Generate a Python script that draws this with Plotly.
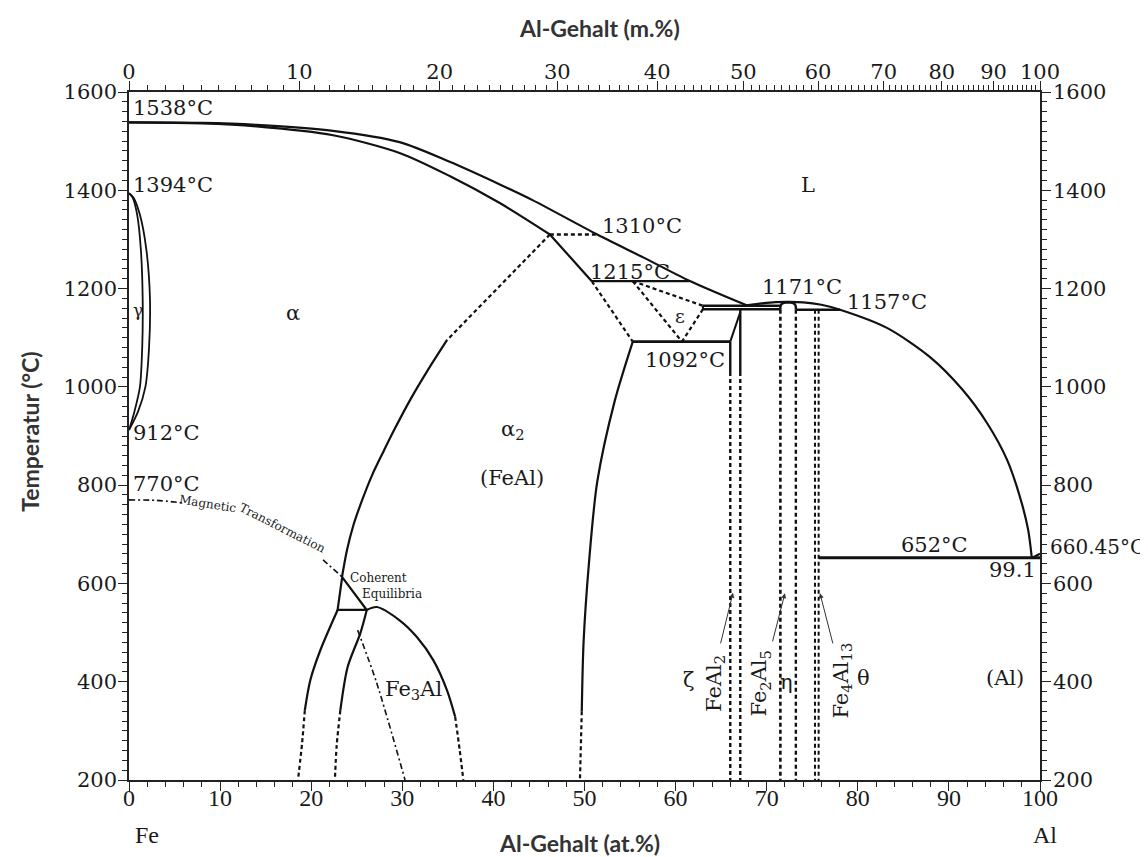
import plotly.graph_objects as go

# ---------------- data (at.% Al, °C) ----------------
liquidus_fe_x = [0, 8, 14, 22.4, 29.7, 35.2, 40.7, 44.3, 51.4, 56.5, 61.5, 67.8]
liquidus_fe_t = [1538, 1537, 1533, 1521, 1498, 1458, 1412, 1380, 1310, 1263, 1216, 1166]
liquidus_al_x = [67.8, 69.5, 71.0, 72.4, 74.0, 76.0, 78.05, 83.2, 87.9, 91.5, 94.2, 96.4, 97.8, 98.7, 99.1]
liquidus_al_t = [1166, 1170, 1172.5, 1173, 1172, 1167, 1157, 1120, 1061, 994, 926, 851, 776, 709, 652]
solidus_x = [0, 8, 14, 22.4, 29.7, 35.2, 40.7, 46.2]
solidus_t = [1538, 1536, 1530, 1512, 1476, 1429, 1374, 1310]
alpha_a2_upper_x = [46.2, 50.8]
alpha_a2_upper_t = [1310, 1215]
gamma_outer_x = [0, 0.5, 1.2, 1.9, 2.3, 2.2, 1.8, 1.0, 0]
gamma_outer_t = [1394, 1385, 1350, 1280, 1180, 1080, 1000, 950, 912]
gamma_inner_x = [0, 0.4, 0.9, 1.3, 1.5, 1.45, 1.2, 0.6, 0]
gamma_inner_t = [1394, 1385, 1350, 1280, 1180, 1080, 1000, 950, 912]
order_dashed_x = [46.2, 34.9]
order_dashed_t = [1310, 1095]
order_solid_x = [34.9, 32.8, 30.85, 29.1, 28.0, 26.7, 25.6, 24.64, 23.93, 23.38]
order_solid_t = [1095, 1034, 973, 912, 871, 821, 770, 719, 668, 613]
coherent_x = [23.4, 22.9, 26.1, 23.4]
coherent_t = [613, 546, 546, 613]
a_fe3al_left_x = [22.9, 21.0, 19.9, 19.3]
a_fe3al_left_t = [546, 464, 403, 342]
a_fe3al_left_dash_x = [19.3, 19.0, 18.55]
a_fe3al_left_dash_t = [342, 275, 200]
fe3al_left_x = [26.1, 25.4, 24.0, 23.2]
fe3al_left_t = [546, 499, 430, 342]
fe3al_left_dash_x = [23.2, 22.8, 22.6]
fe3al_left_dash_t = [342, 271, 200]
fe3al_dome_x = [26.1, 27.2, 29.7, 31.6, 33.4, 34.9, 35.8]
fe3al_dome_t = [546, 552, 525, 491, 444, 383, 329]
fe3al_dome_dash_x = [35.8, 36.3, 36.7]
fe3al_dome_dash_t = [329, 261, 200]
d03_b2_x = [25.1, 27.2, 30.3]
d03_b2_t = [505, 397, 200]
magnetic1_x = [0, 3, 5.9]
magnetic1_t = [770, 769, 764]
magnetic2_x = [21.3, 23.4]
magnetic2_t = [648, 613]
b2_boundary_x = [55.3, 53.3, 51.4, 50.5, 49.9, 49.7]
b2_boundary_t = [1092, 970, 807, 644, 481, 340]
b2_boundary_dash_x = [49.7, 49.5]
b2_boundary_dash_t = [340, 200]

T_1310, T_1215, T_1092 = 1310, 1215, 1092
T_upper, T_lower, T_652 = 1165, 1158, 652
x_1310 = [46.2, 51.4]
x_1215 = [50.8, 61.5]
x_1092 = [55.3, 66.0]
eps_x = [55.3, 60.7, 63.0]
feal2_left, feal2_right = 66.0, 67.1
fe2al5_left, fe2al5_right = 71.5, 73.2
fe4al13_a, fe4al13_b = 75.3, 75.7
cap_x = [71.5, 71.5, 71.6, 71.9, 72.35, 72.8, 73.1, 73.2, 73.2]
cap_t = [1157, 1163, 1168, 1171, 1172, 1171, 1168, 1163, 1157]

wt_major = [0, 10, 20, 30, 40, 50, 60, 70, 80, 90, 100]
at_major = [0, 10, 20, 30, 40, 50, 60, 70, 80, 90, 100]
t_major = [200, 400, 600, 800, 1000, 1200, 1400, 1600]


def wt_to_at(w):
    a = w / 26.98
    f = (100 - w) / 55.845
    return 100 * a / (a + f)


fig = go.Figure()
BLACK = "#111111"


def line(xs, ys, dash=None, width=2.2, shape="linear"):
    fig.add_trace(go.Scatter(x=xs, y=ys, mode="lines",
                             line=dict(color=BLACK, width=width, dash=dash, shape=shape, smoothing=0.8),
                             showlegend=False, hoverinfo="skip"))


DASH = "4px,3px"
DASHDOT = "6px,3px,2px,3px"

line(liquidus_fe_x, liquidus_fe_t, shape="spline")
line(liquidus_al_x, liquidus_al_t, shape="spline")
line([99.1, 100], [652, 660.45])
line(solidus_x, solidus_t, shape="spline")
line(alpha_a2_upper_x, alpha_a2_upper_t)
line(gamma_outer_x, gamma_outer_t, shape="spline", width=1.8)
line(gamma_inner_x, gamma_inner_t, shape="spline", width=1.8)
line(order_dashed_x, order_dashed_t, dash=DASH)
line(order_solid_x, order_solid_t, shape="spline")
line(coherent_x, coherent_t)
line(a_fe3al_left_x, a_fe3al_left_t, shape="spline")
line(a_fe3al_left_dash_x, a_fe3al_left_dash_t, dash=DASH, shape="spline")
line(fe3al_left_x, fe3al_left_t, shape="spline")
line(fe3al_left_dash_x, fe3al_left_dash_t, dash=DASH, shape="spline")
line(fe3al_dome_x, fe3al_dome_t, shape="spline")
line(fe3al_dome_dash_x, fe3al_dome_dash_t, dash=DASH, shape="spline")
line(d03_b2_x, d03_b2_t, dash=DASHDOT, width=1.6, shape="spline")
line(magnetic1_x, magnetic1_t, dash=DASHDOT, width=1.6, shape="spline")
line(magnetic2_x, magnetic2_t, dash=DASHDOT, width=1.6)
line(b2_boundary_x, b2_boundary_t, shape="spline")
line(b2_boundary_dash_x, b2_boundary_dash_t, dash=DASH)

# horizontals
line(x_1310, [T_1310, T_1310], dash=DASH, width=2.4)
line(x_1215, [T_1215, T_1215], width=2.2)
line(x_1092, [T_1092, T_1092], width=2.8)
line([eps_x[2], fe2al5_left], [T_upper, T_upper], width=2.4)
line([eps_x[2], fe2al5_left], [T_lower, T_lower], width=2.4)
line([eps_x[2], eps_x[2]], [T_lower, T_upper], width=2)
line([fe2al5_right, 78.05], [1157, 1157], width=2.4)
line([fe4al13_b, 100], [T_652, T_652], width=3)

# epsilon triangle (dashed)
line([x_1215[0], eps_x[0]], [T_1215, T_1092], dash=DASH)
line([eps_x[0], eps_x[1]], [T_1215, T_1092], dash=DASH)
line([eps_x[0], eps_x[2]], [T_1215, T_upper], dash=DASH)
line([eps_x[2], eps_x[1]], [T_lower, T_1092], dash=DASH)

# FeAl2
line([feal2_left, feal2_left], [T_1092, 1030], width=2.4)
line([feal2_left, feal2_left], [1030, 200], dash=DASH, width=2.4)
line([feal2_left, feal2_right], [T_1092, 1152], width=2)
line([feal2_right, feal2_right], [T_lower, 1030], width=2.4)
line([feal2_right, feal2_right], [1030, 200], dash=DASH, width=2.4)
# Fe2Al5
line(cap_x, cap_t, width=2.4)
line([fe2al5_left, fe2al5_left], [1157, 200], dash=DASH, width=2.6)
line([fe2al5_right, fe2al5_right], [1157, 200], dash=DASH, width=2.4)
# Fe4Al13
line([fe4al13_a, fe4al13_a], [1157, 200], dash=DASH, width=2)
line([fe4al13_b, fe4al13_b], [1157, 200], dash=DASH, width=2)

# invisible trace for secondary axes
fig.add_trace(go.Scatter(x=[0, 100], y=[200, 1600], xaxis="x2", yaxis="y2", mode="markers",
                         marker=dict(opacity=0), showlegend=False, hoverinfo="skip"))

SERIF = "DejaVu Serif"
TXT = "#1a1a1a"


def label(x, y, text, size=21, xanchor="center", yanchor="middle", angle=0, family=SERIF):
    fig.add_annotation(x=x, y=y, text=text, showarrow=False, xanchor=xanchor, yanchor=yanchor,
                       textangle=angle, font=dict(family=family, size=size, color=TXT))


# temperature labels
label(0.2, 1567, "1538°C", xanchor="left")
label(0.2, 1411, "1394°C", xanchor="left")
label(0.2, 906, "912°C", xanchor="left")
label(0.2, 802, "770°C", xanchor="left")
label(51.7, 1327, "1310°C", xanchor="left")
label(50.4, 1234, "1215°C", xanchor="left")
label(69.3, 1203, "1171°C", xanchor="left")
label(78.6, 1173, "1157°C", xanchor="left")
label(56.4, 1055, "1092°C", xanchor="left")
label(88.4, 678, "652°C")
label(99.75, 627, "99.1", xanchor="right")
fig.add_annotation(xref="paper", yref="paper", x=1.0088, y=(674 - 200) / 1400, text="660.45°C",
                   showarrow=False, xanchor="left", yanchor="middle",
                   font=dict(family=SERIF, size=20, color=TXT))

# phase labels
label(74.5, 1411, "L")
label(18.0, 1150, "α")
label(0.95, 1156, "γ", size=17)
label(42.2, 912, "α<sub>2</sub>")
label(42.0, 814, "(FeAl)")
label(60.5, 1144, "ε", size=19)
label(31.2, 383, "Fe<sub>3</sub>Al")
label(24.0, 611, "Coherent", size=12, xanchor="left")
label(25.4, 578, "Equilibria", size=12, xanchor="left")
label(8.7, 762, "Magnetic", size=12, angle=9)
label(16.8, 712, "Transformation", size=12, angle=27)
label(61.4, 403, "ζ")
label(64.3, 397, "FeAl<sub>2</sub>", angle=-90)
label(69.3, 397, "Fe<sub>2</sub>Al<sub>5</sub>", angle=-90)
label(72.2, 399, "η")
label(78.3, 403, "Fe<sub>4</sub>Al<sub>13</sub>", angle=-90)
label(80.6, 407, "θ")
label(96.2, 407, "(Al)")

# leader arrows
for (hx, ht, tx, tt) in [(66.3, 581, 64.9, 475), (72.0, 580, 70.6, 479), (75.85, 580, 77.3, 475)]:
    fig.add_annotation(x=hx, y=ht, ax=tx, ay=tt, xref="x", yref="y", axref="x", ayref="y",
                       text="", showarrow=True, arrowhead=2, arrowsize=1, arrowwidth=1,
                       arrowcolor="#333333")

# axis titles and element names
TITLE_FONT = dict(family="Lato", size=23, color="#333333")
fig.add_annotation(xref="paper", yref="paper", x=0.517, y=1.093, text="<b>Al-Gehalt (m.%)</b>",
                   showarrow=False, font=TITLE_FONT, xanchor="center", yanchor="middle")
fig.add_annotation(xref="paper", yref="paper", x=0.495, y=-0.0916, text="<b>Al-Gehalt (at.%)</b>",
                   showarrow=False, font=TITLE_FONT, xanchor="center", yanchor="middle")
fig.add_annotation(xref="paper", yref="paper", x=-0.1087, y=0.506, text="<b>Temperatur (°C)</b>",
                   showarrow=False, font=TITLE_FONT, xanchor="center", yanchor="middle", textangle=-90)
fig.add_annotation(xref="paper", yref="paper", x=0.0198, y=-0.08, text="Fe",
                   showarrow=False, xanchor="center", yanchor="middle",
                   font=dict(family="Liberation Serif", size=24, color=TXT))
fig.add_annotation(xref="paper", yref="paper", x=1.0055, y=-0.08, text="Al",
                   showarrow=False, xanchor="center", yanchor="middle",
                   font=dict(family="Liberation Serif", size=24, color=TXT))

top_major_vals = [wt_to_at(w) for w in wt_major]
top_minor_vals = [wt_to_at(w) for w in range(0, 101)]

axis_common = dict(showgrid=False, zeroline=False, showline=True, linecolor="#222222", linewidth=1.5,
                   ticks="outside", ticklen=9, tickwidth=1.3, tickcolor="#222222")

fig.update_layout(
    width=1140, height=849,
    margin=dict(l=121, r=108, t=84, b=77),
    paper_bgcolor="white", plot_bgcolor="white",
    xaxis=dict(range=[0, 100], tickvals=at_major, ticktext=[str(v) for v in at_major],
               tickfont=dict(family="Liberation Serif", size=24, color=TXT),
               ticklabelstandoff=-14,
               minor=dict(tickmode="linear", tick0=0, dtick=2, ticks="outside", ticklen=5,
                          tickcolor="#222222", tickwidth=1),
               **axis_common),
    yaxis=dict(range=[200, 1600], tickvals=t_major, ticktext=[str(v) for v in t_major],
               tickfont=dict(family=SERIF, size=21, color=TXT),
               ticklabelstandoff=-3,
               minor=dict(tickmode="linear", tick0=200, dtick=20, ticks="outside", ticklen=5,
                          tickcolor="#222222", tickwidth=1),
               **axis_common),
    xaxis2=dict(range=[0, 100], overlaying="x", side="top", anchor="y2",
                tickvals=top_major_vals, ticktext=[str(v) for v in wt_major],
                tickfont=dict(family=SERIF, size=21, color=TXT),
                ticklabelstandoff=-6,
                minor=dict(tickmode="array", tickvals=top_minor_vals, ticks="outside", ticklen=5,
                           tickcolor="#222222", tickwidth=1),
                **axis_common),
    yaxis2=dict(range=[200, 1600], overlaying="y", side="right", anchor="x2",
                tickvals=t_major, ticktext=[str(v) for v in t_major],
                tickfont=dict(family=SERIF, size=21, color=TXT),
                ticklabelstandoff=-2,
                minor=dict(tickmode="linear", tick0=200, dtick=20, ticks="outside", ticklen=5,
                           tickcolor="#222222", tickwidth=1),
                **axis_common),
)

fig.write_html("out.html")
